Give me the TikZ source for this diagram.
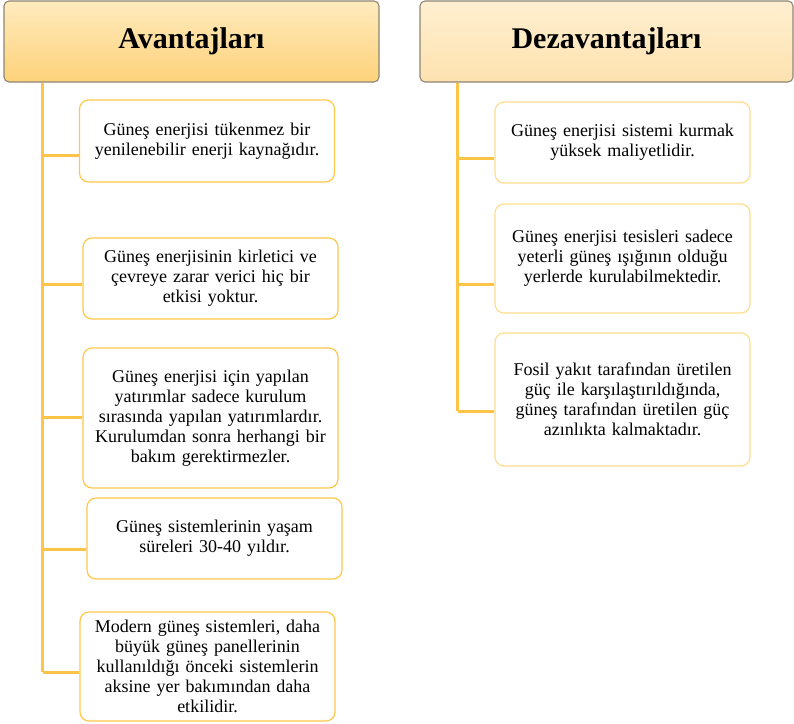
\documentclass[tikz,border=0pt]{standalone}
\usepackage{fontspec}
\setmainfont{Liberation Serif}
\definecolor{hdrborder}{HTML}{8E8574}
\definecolor{hAtop}{HTML}{FFEBBE}
\definecolor{hAbot}{HTML}{FDD27A}
\definecolor{hBtop}{HTML}{FFEFD0}
\definecolor{hBbot}{HTML}{FDE2B0}
\definecolor{lineA}{HTML}{FFC446}
\definecolor{boxA}{HTML}{FFC84A}
\definecolor{boxB}{HTML}{FFDD8C}
\tikzset{
  hdr/.style={draw=hdrborder, line width=1.1pt, rounded corners=5pt, inner sep=0pt,
    font=\fontsize{30}{34}\selectfont\bfseries},
  itembox/.style={draw=#1, line width=1.2pt, rounded corners=9pt, fill=white,
    minimum width=255pt, inner sep=0pt, align=center, text width=250pt,
    font=\fontsize{18}{20}\selectfont},
  conn/.style={draw=lineA, line width=3pt},
}
\begin{document}
\begin{tikzpicture}[x=1pt,y=-1pt]
\useasboundingbox (0,0) rectangle (794,723);
% headers
\node[hdr, top color=hAtop, bottom color=hAbot, minimum width=375pt, minimum height=81pt] (hA) at (191.5,41.5) {Avantajları};
\node[hdr, top color=hBtop, bottom color=hBbot, minimum width=373pt, minimum height=81pt] (hB) at (606.5,41.5) {Dezavantajları};
% left boxes
\node[itembox=boxA, minimum height=82pt] (a1) at (207,141) {Güneş enerjisi tükenmez bir\\yenilenebilir enerji kaynağıdır.};
\node[itembox=boxA, minimum height=81pt] (a2) at (210.5,278.5) {Güneş enerjisinin kirletici ve\\çevreye zarar verici hiç bir\\etkisi yoktur.};
\node[itembox=boxA, minimum height=140pt] (a3) at (210.5,418) {Güneş enerjisi için yapılan\\yatırımlar sadece kurulum\\sırasında yapılan yatırımlardır.\\Kurulumdan sonra herhangi bir\\bakım gerektirmezler.};
\node[itembox=boxA, minimum height=81pt] (a4) at (214.5,538.5) {Güneş sistemlerinin yaşam\\süreleri 30-40 yıldır.};
\node[itembox=boxA, minimum height=109pt] (a5) at (207.5,666.5) {Modern güneş sistemleri, daha\\büyük güneş panellerinin\\kullanıldığı önceki sistemlerin\\aksine yer bakımından daha\\etkilidir.};
% right boxes
\node[itembox=boxB, minimum height=81pt] (b1) at (622.5,142.5) {Güneş enerjisi sistemi kurmak\\yüksek maliyetlidir.};
\node[itembox=boxB, minimum height=109pt] (b2) at (622.5,258.5) {Güneş enerjisi tesisleri sadece\\yeterli güneş ışığının olduğu\\yerlerde kurulabilmektedir.};
\node[itembox=boxB, minimum height=133pt] (b3) at (622.5,399.5) {Fosil yakıt tarafından üretilen\\güç ile karşılaştırıldığında,\\güneş tarafından üretilen güç\\azınlıkta kalmaktadır.};
% trunk coordinates
\coordinate (tA0) at (42.5,82.5);
\coordinate (tA1) at (42.5,155);
\coordinate (tA2) at (42.5,284);
\coordinate (tA3) at (42.5,417);
\coordinate (tA4) at (42.5,549);
\coordinate (tA5) at (42.5,672);
\coordinate (tB0) at (457.5,82.5);
\coordinate (tB1) at (457.5,158);
\coordinate (tB2) at (457.5,284);
\coordinate (tB3) at (457.5,411);
% connectors
\begin{scope}[on background layer/.style={}]
\draw[conn] (tA0) -- (tA5);
\draw[conn] (tA1) -- (tA1 -| a1.west);
\draw[conn] (tA2) -- (tA2 -| a2.west);
\draw[conn] (tA3) -- (tA3 -| a3.west);
\draw[conn] (tA4) -- (tA4 -| a4.west);
\draw[conn] (tA5) -- (tA5 -| a5.west);
\draw[conn] (tB0) -- (tB3);
\draw[conn] (tB1) -- (tB1 -| b1.west);
\draw[conn] (tB2) -- (tB2 -| b2.west);
\draw[conn] (tB3) -- (tB3 -| b3.west);
\end{scope}
\end{tikzpicture}
\end{document}
